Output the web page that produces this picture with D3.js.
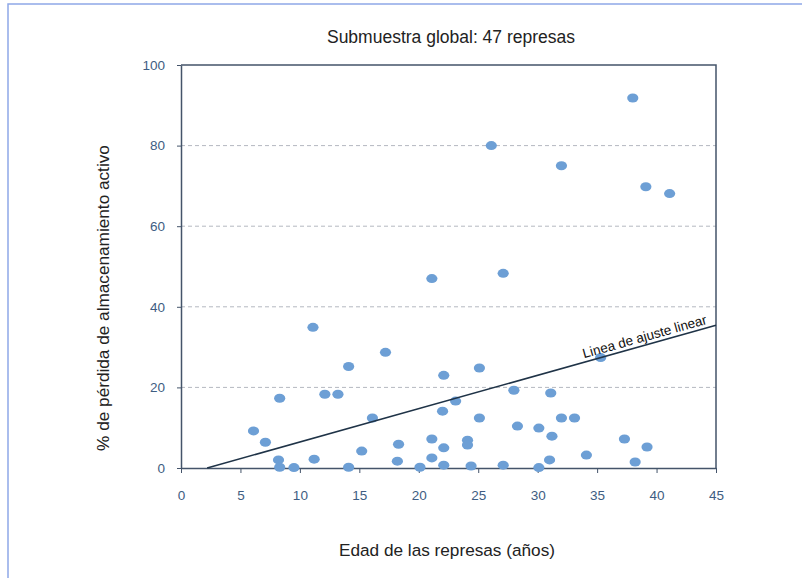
<!DOCTYPE html>
<html><head><meta charset="utf-8">
<script src="https://cdn.jsdelivr.net/npm/d3@7/dist/d3.min.js"></script>
<style>body{margin:0;background:#fff}svg{display:block}</style>
</head><body>
<script>
const title = "Submuestra global: 47 represas";
const xLabel = "Edad de las represas (años)";
const yLabel = "% de pérdida de almacenamiento activo";
const fitLabel = "Linea de ajuste linear";
const xTicks = [0,5,10,15,20,25,30,35,40,45];
const yTicks = [0,20,40,60,80,100];
const gridTicks = [20,40,60,80];
const ageYears = [38.0,26.1,32.0,39.1,41.1,21.1,27.1,11.1,17.2,14.1,25.1,22.1,12.1,13.2,8.3,28.0,31.1,35.3,23.1,22.0,16.1,25.1,32.0,33.1,6.1,28.3,30.1,7.1,21.1,18.3,24.1,24.1,22.1,31.2,37.3,39.2,8.2,11.2,15.2,18.2,21.1,31.0,34.1,8.3,9.5,14.1,20.1,22.1,24.4,27.1,30.1,38.2];
const lossPct = [91.8,80.0,75.0,69.8,68.1,47.0,48.3,34.9,28.7,25.2,24.8,23.0,18.3,18.3,17.3,19.3,18.6,27.4,16.6,14.1,12.4,12.4,12.4,12.4,9.2,10.4,9.9,6.4,7.2,5.9,6.9,5.7,5.0,7.9,7.2,5.2,2.0,2.2,4.2,1.7,2.5,2.0,3.2,0.2,0.1,0.2,0.2,0.7,0.5,0.7,0.1,1.5];
const fitX = [2.2, 45];
const fitY = [0, 35.4];

const W = 802, H = 578;
const m = {left:181, top:65, right:W-716, bottom:H-468};
const svg = d3.select("body").append("svg").attr("width",W).attr("height",H);

// outer frame (left and top edges visible)
svg.append("path").attr("d",`M8,${H+2}V4H${W+2}`).attr("fill","none").attr("stroke","#8fa8e8").attr("stroke-width",1.5);

const x = d3.scaleLinear().domain([0,45]).range([m.left, W-m.right]);
const y = d3.scaleLinear().domain([0,100]).range([H-m.bottom, m.top]);
const font = "'Liberation Sans', Arial, sans-serif";
const axisCol = "#44546a";
const tickCol = "#3e5d82";

// grid
svg.append("g").selectAll("line").data(gridTicks).join("line")
  .attr("x1",x(0)).attr("x2",x(45)).attr("y1",d=>y(d)).attr("y2",d=>y(d))
  .attr("stroke","#b4b8c0").attr("stroke-width",1).attr("stroke-dasharray","4,3");

// box top/right
svg.append("path").attr("d",`M${x(0)},${y(100)}H${x(45)}V${y(0)}`).attr("fill","none").attr("stroke",axisCol).attr("stroke-width",1.5);

const xAxis = svg.append("g").attr("transform",`translate(0,${y(0)})`)
  .call(d3.axisBottom(x).tickValues(xTicks).tickSize(5).tickPadding(17).tickSizeOuter(0));
const yAxis = svg.append("g").attr("transform",`translate(${x(0)},0)`)
  .call(d3.axisLeft(y).tickValues(yTicks).tickSize(4).tickPadding(12).tickSizeOuter(0));
[xAxis,yAxis].forEach(a=>{
  a.select(".domain").attr("stroke",axisCol).attr("stroke-width",1.5);
  a.selectAll(".tick line").attr("stroke",axisCol).attr("stroke-width",1);
  a.selectAll(".tick text").attr("fill",tickCol).attr("font-family",font).attr("font-size",13.5);
});

// points
svg.append("g").selectAll("ellipse").data(ageYears).join("ellipse")
  .attr("cx",(d)=>x(d)).attr("cy",(d,i)=>y(lossPct[i]))
  .attr("rx",5.6).attr("ry",4.5).attr("fill","#6d9fd5");

// fit line
svg.append("line").attr("x1",x(fitX[0])).attr("y1",y(fitY[0])).attr("x2",x(fitX[1])).attr("y2",y(fitY[1]))
  .attr("stroke","#1f3347").attr("stroke-width",1.5);
const ang = Math.atan2(y(fitY[1])-y(fitY[0]), x(fitX[1])-x(fitX[0]))*180/Math.PI;
const lx = 39.1, ly = fitY[0] + (lx-fitX[0])*(fitY[1]-fitY[0])/(fitX[1]-fitX[0]);
svg.append("text").attr("transform",`translate(${x(lx)},${y(ly)-4}) rotate(${ang})`)
  .attr("text-anchor","middle").attr("font-family",font).attr("font-size",13.5).attr("fill","#111").text(fitLabel);

// titles
svg.append("text").attr("x",451).attr("y",43).attr("text-anchor","middle").attr("font-family",font).attr("font-size",17.5).attr("fill","#222").text(title);
svg.append("text").attr("x",447).attr("y",556).attr("text-anchor","middle").attr("font-family",font).attr("font-size",17.2).attr("fill","#222").text(xLabel);
svg.append("text").attr("transform",`translate(109,298) rotate(-90)`).attr("text-anchor","middle").attr("font-family",font).attr("font-size",17.2).attr("fill","#222").text(yLabel);
</script>
</body></html>
